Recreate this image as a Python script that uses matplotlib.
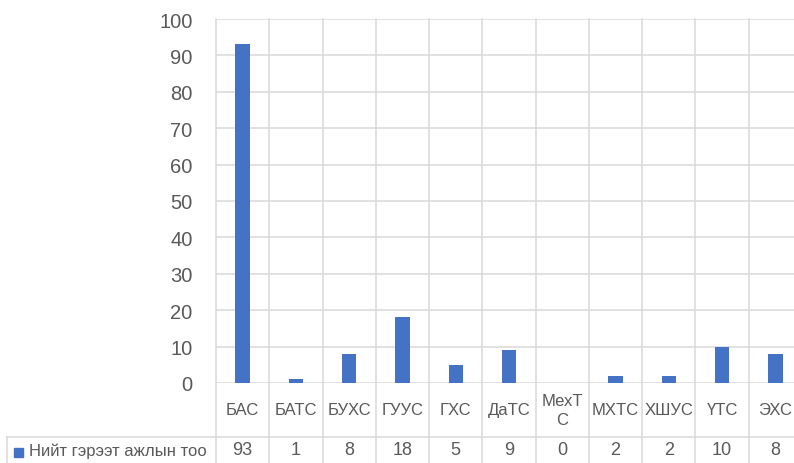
import matplotlib
matplotlib.use("Agg")
import matplotlib.pyplot as plt
from matplotlib.lines import Line2D
from matplotlib.patches import Rectangle

categories = ["БАС", "БАТС", "БУХС", "ГУУС", "ГХС", "ДаТС", "МехТ\nС", "МХТС", "ХШУС", "ҮТС", "ЭХС"]
values = [93, 1, 8, 18, 5, 9, 0, 2, 2, 10, 8]
series_name = "Нийт гэрээт ажлын тоо"
yticks = [0, 10, 20, 30, 40, 50, 60, 70, 80, 90, 100]

plt.rcParams['font.family'] = ['Liberation Sans', 'DejaVu Sans']

W, H = 794, 464
bar_color = "#4472C4"
grid_color = "#D9D9D9"
text_color = "#595959"

fig = plt.figure(figsize=(W / 100, H / 100), dpi=100)
# plot area in pixels: left 216, right 802 (cropped), top 20, bottom 384
left, right, top, bottom = 216, 802, 20, 384
ax = fig.add_axes([left / W, (H - bottom) / H, (right - left) / W, (bottom - top) / H])

x = list(range(len(categories)))
ax.bar(x, values, width=0.27, color=bar_color, zorder=3)

ax.set_xlim(-0.5, len(categories) - 0.5)
ax.set_ylim(0, 100)
ax.set_yticks(yticks)
ax.set_xticks([])
ax.tick_params(axis='y', length=0, pad=17, labelsize=14.5, labelcolor=text_color)
ax.grid(axis='y', color=grid_color, linewidth=1.1, zorder=0)
for s in ax.spines.values():
    s.set_visible(False)

# data table below the axis
axh = bottom - top
row2_bot = -(H + 5 - bottom) / axh
tr = ax.get_xaxis_transform()

for b in [i - 0.5 for i in range(len(categories) + 1)]:
    ax.add_line(Line2D([b, b], [1, row2_bot], transform=tr, color=grid_color,
                       linewidth=1.1, clip_on=False, zorder=1))

# horizontal line under header row, extending to the legend cell
fx0 = 7 / W
fig.add_artist(Line2D([fx0, 1], [(H - 438) / H, (H - 438) / H], color=grid_color, linewidth=1.1))
fig.add_artist(Line2D([fx0, fx0], [(H - 438) / H, 0], color=grid_color, linewidth=1.1))

hdr_y = -(411 - bottom) / axh
val_y = -(451 - bottom) / axh
for i, (c, v) in enumerate(zip(categories, values)):
    ax.text(i, hdr_y, c, transform=tr, ha='center', va='center', fontsize=12,
            color=text_color, linespacing=1.3)
    ax.text(i, val_y, str(v), transform=tr, ha='center', va='center', fontsize=13,
            color=text_color)

# legend key in the table
fig.add_artist(Rectangle((14 / W, (H - 458) / H), 9 / W, 9 / H, color=bar_color))
fig.text(29 / W, (H - 451) / H, series_name, ha='left', va='center', fontsize=12,
         color=text_color)

fig.savefig("out.png", dpi=100)
